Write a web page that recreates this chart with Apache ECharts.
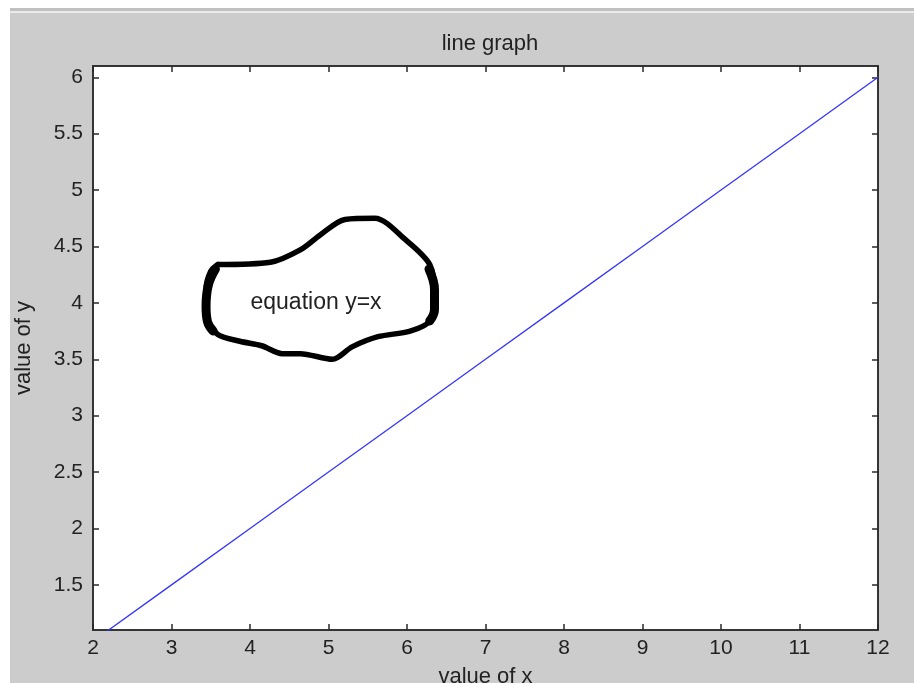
<!DOCTYPE html>
<html>
<head>
<meta charset="utf-8">
<script src="https://cdn.jsdelivr.net/npm/echarts@6/dist/echarts.min.js"></script>
<style>
html,body{margin:0;padding:0;background:#fff;}
#c{width:914px;height:683px;}
</style>
</head>
<body>
<div id="c"></div>
<script>
// Data
var xValues = [2, 3, 4, 5, 6, 7, 8, 9, 10, 11, 12];
var yValues = [1, 1.5, 2, 2.5, 3, 3.5, 4, 4.5, 5, 5.5, 6];
var xTicks = [2, 3, 4, 5, 6, 7, 8, 9, 10, 11, 12];
var yTicks = [1.5, 2, 2.5, 3, 3.5, 4, 4.5, 5, 5.5, 6];
// hand-drawn annotation outline (data coordinates)
var blobX = [3.59, 4.26, 4.64, 4.89, 5.21, 5.59, 5.98, 6.29, 6.35, 6.29, 6.04, 5.63, 5.30, 5.05, 4.64, 4.41, 4.15, 3.87, 3.59, 3.45, 3.44, 3.50, 3.59];
var blobY = [4.34, 4.36, 4.47, 4.60, 4.74, 4.75, 4.56, 4.34, 4.08, 3.84, 3.75, 3.70, 3.61, 3.50, 3.55, 3.55, 3.62, 3.66, 3.72, 3.87, 4.12, 4.28, 4.34];
// thicker strokes of the hand-drawn outline
var blobLeftX = [3.56, 3.47, 3.44, 3.46, 3.53];
var blobLeftY = [4.30, 4.16, 3.97, 3.83, 3.75];
var blobRightX = [6.28, 6.35, 6.35, 6.29];
var blobRightY = [4.30, 4.12, 3.94, 3.84];
var annotationText = 'equation y=x';
var annotationPos = [4, 4];

var chart = echarts.init(document.getElementById('c'));
var font = 'Liberation Sans, Arial, sans-serif';
var textColor = '#222';
var axisColor = '#2a2a2a';

function pairs(xs, ys) { return xs.map(function (x, i) { return [x, ys[i]]; }); }

var tickStyle = { show: true, inside: true, length: 6, lineStyle: { color: axisColor, width: 1.5 } };
var lineStyleAxis = { show: true, onZero: false, lineStyle: { color: axisColor, width: 1.5 } };

chart.setOption({
  animation: false,
  backgroundColor: 'transparent',
  graphic: [
    { type: 'rect', left: 10, top: 8, shape: { width: 904, height: 675 }, style: { fill: '#cccccc' }, z: -10 },
    { type: 'rect', left: 10, top: 8, shape: { width: 904, height: 3 }, style: { fill: '#c0c0c0' }, z: -9 },
    { type: 'rect', left: 10, top: 11, shape: { width: 904, height: 2 }, style: { fill: '#ececec' }, z: -9 }
  ],
  title: {
    text: 'line graph',
    left: 485, top: 28, textAlign: 'center',
    textStyle: { fontFamily: font, fontSize: 22, fontWeight: 'normal', color: textColor }
  },
  grid: { left: 93, right: 36, top: 66, bottom: 53, show: true, backgroundColor: '#ffffff', borderColor: axisColor, borderWidth: 1.5, containLabel: false, outerBoundsMode: 'none' },
  xAxis: [
    {
      type: 'value', min: 2, max: 12, interval: 1,
      name: 'value of x', nameLocation: 'middle', nameGap: 36,
      nameTextStyle: { color: textColor, fontFamily: font, fontSize: 22 },
      axisLine: lineStyleAxis, splitLine: { show: false },
      axisLabel: { color: textColor, fontFamily: font, fontSize: 21, margin: 8, customValues: xTicks },
      axisTick: Object.assign({ customValues: xTicks }, tickStyle)
    },
    {
      type: 'value', min: 2, max: 12, interval: 1, position: 'top',
      axisLine: lineStyleAxis, splitLine: { show: false },
      axisLabel: { show: false },
      axisTick: Object.assign({ customValues: xTicks }, tickStyle)
    }
  ],
  yAxis: [
    {
      type: 'value', min: 1.1, max: 6.1,
      name: 'value of y', nameLocation: 'middle', nameGap: 58, nameRotate: 90,
      nameTextStyle: { color: textColor, fontFamily: font, fontSize: 22 },
      axisLine: lineStyleAxis, splitLine: { show: false },
      axisLabel: { color: textColor, fontFamily: font, fontSize: 21, margin: 10, customValues: yTicks },
      axisTick: Object.assign({ customValues: yTicks }, tickStyle)
    },
    {
      type: 'value', min: 1.1, max: 6.1, position: 'right',
      axisLine: lineStyleAxis, splitLine: { show: false },
      axisLabel: { show: false },
      axisTick: Object.assign({ customValues: yTicks }, tickStyle)
    }
  ],
  series: [
    {
      type: 'line', data: pairs(xValues, yValues), xAxisIndex: 0, yAxisIndex: 0,
      showSymbol: false, clip: true,
      lineStyle: { color: '#3535ff', width: 1.3 }
    },
    {
      type: 'line', data: pairs(blobX, blobY), xAxisIndex: 0, yAxisIndex: 0,
      showSymbol: false, smooth: 0.3, clip: true,
      lineStyle: { color: '#000', width: 5.5, join: 'round', cap: 'round' },
      markPoint: {
        symbol: 'circle', symbolSize: 1,
        itemStyle: { color: 'transparent' },
        label: { show: true, position: 'right', distance: 0, formatter: annotationText,
          color: textColor, fontFamily: font, fontSize: 23 },
        data: [{ coord: annotationPos }]
      }
    },
    {
      type: 'line', data: pairs(blobLeftX, blobLeftY), xAxisIndex: 0, yAxisIndex: 0,
      showSymbol: false, smooth: 0.4, clip: true,
      lineStyle: { color: '#000', width: 9, cap: 'round' }
    },
    {
      type: 'line', data: pairs(blobRightX, blobRightY), xAxisIndex: 0, yAxisIndex: 0,
      showSymbol: false, smooth: 0.4, clip: true,
      lineStyle: { color: '#000', width: 9, cap: 'round' }
    }
  ]
});
</script>
</body>
</html>
